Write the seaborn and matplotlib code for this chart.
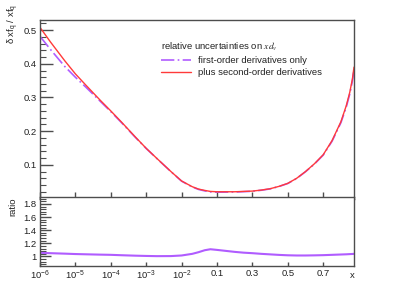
import numpy as np
import pandas as pd
import matplotlib
matplotlib.use("Agg")
import matplotlib.pyplot as plt
import seaborn as sns

# ---------------- data ----------------
x_vals = [1e-6, 2e-6, 5e-6, 1e-5, 2e-5, 5e-5, 1e-4, 2e-4, 5e-4, 1e-3, 2e-3,
          5e-3, 1e-2, 0.02, 0.03, 0.045, 0.065, 0.1, 0.15, 0.2, 0.25, 0.3,
          0.35, 0.4, 0.45, 0.5, 0.55, 0.6, 0.65, 0.7, 0.75, 0.8, 0.83, 0.85,
          0.865, 0.874]
second_order = [0.508, 0.464, 0.409, 0.370, 0.336, 0.292, 0.260, 0.227, 0.182,
                0.149, 0.119, 0.080, 0.052, 0.035, 0.028, 0.024, 0.021, 0.020,
                0.020, 0.020, 0.021, 0.022, 0.025, 0.029, 0.036, 0.045, 0.060,
                0.080, 0.103, 0.130, 0.172, 0.228, 0.275, 0.315, 0.355, 0.390]
first_order = [0.4815, 0.4419, 0.3921, 0.3600, 0.3300, 0.2890, 0.2580, 0.2255,
               0.1810, 0.1485, 0.1187, 0.0797, 0.0515, 0.0342, 0.0270, 0.0226,
               0.0196, 0.0188, 0.0190, 0.0192, 0.0203, 0.0215, 0.0245, 0.0285,
               0.0356, 0.0446, 0.0595, 0.0795, 0.1020, 0.1288, 0.1700, 0.2250,
               0.2710, 0.3100, 0.3490, 0.3830]
ratio_vals = [1.055, 1.050, 1.043, 1.037, 1.033, 1.028, 1.025, 1.019, 1.012,
              1.008, 1.005, 1.006, 1.015, 1.040, 1.065, 1.095, 1.110, 1.100,
              1.085, 1.070, 1.058, 1.050, 1.040, 1.032, 1.024, 1.018, 1.015,
              1.015, 1.017, 1.020, 1.025, 1.030, 1.033, 1.036, 1.038, 1.040]

xtick_vals = [1e-6, 1e-5, 1e-4, 1e-3, 1e-2, 0.1, 0.3, 0.5, 0.7]
xtick_labels = [r"$10^{-6}$", r"$10^{-5}$", r"$10^{-4}$", r"$10^{-3}$",
                r"$10^{-2}$", "0.1", "0.3", "0.5", "0.7"]
ytick_top = [0.1, 0.2, 0.3, 0.4, 0.5]
ytick_ratio = [1.0, 1.2, 1.4, 1.6, 1.8]
ytick_ratio_labels = ["1", "1.2", "1.4", "1.6", "1.8"]

label_first = "first-order derivatives only"
label_second = "plus second-order derivatives"
legend_title = r"relative uncertainties on $\mathit{xd}_{\mathit{v}}$"

df = pd.DataFrame({"x": x_vals, "first": first_order,
                   "second": second_order, "ratio": ratio_vals})

# ---------------- style ----------------
sns.set_style("ticks")
plt.rcParams["font.family"] = ["Liberation Sans", "DejaVu Sans"]
plt.rcParams["mathtext.fontset"] = "stix"
plt.rcParams["mathtext.default"] = "regular"
FS = 6.8
FRAME = "#4d4d4d"
TXT = "#222222"
PURPLE = "#b05cff"
RED = "#ff3a3a"


def fwd(x):
    x = np.asarray(x, dtype=float)
    xs = np.maximum(x, 1e-12)
    return np.where(x <= 0.1, np.log10(xs) + 6.0, 5.0 + (x - 0.1) / 0.2)


def inv(t):
    t = np.asarray(t, dtype=float)
    return np.where(t <= 5.0, 10.0 ** (np.minimum(t, 5.0) - 6.0), 0.1 + (t - 5.0) * 0.2)


W, H = 394, 283
fig = plt.figure(figsize=(W / 100, H / 100), dpi=100)
left, right = 40, 354
ax = fig.add_axes([left / W, 1 - 198.5 / H, (right - left) / W, (198.5 - 20) / H])
axr = fig.add_axes([left / W, 1 - 266 / H, (right - left) / W, (266 - 197) / H])

for a in (ax, axr):
    a.set_xscale("function", functions=(fwd, inv))
    a.set_xlim(1e-6, 0.874)
    for s in a.spines.values():
        s.set_color(FRAME)
        s.set_linewidth(1.0)
    a.set_xticks(xtick_vals)
    a.minorticks_off()

# top panel
sns.lineplot(data=df, x="x", y="first", ax=ax, color=PURPLE, lw=1.2,
             linestyle=(0, (8, 2, 1, 2)), label=label_first, sort=False)
sns.lineplot(data=df, x="x", y="second", ax=ax, color=RED, lw=1.0,
             label=label_second, sort=False)
ax.set_ylim(0, 0.53)
ax.set_yticks(ytick_top)
ax.set_yticks(np.arange(0.02, 0.53, 0.02), minor=True)
ax.set_xticklabels([])
ax.set_xlabel("")
ax.set_ylabel("")
ax.tick_params(axis="y", which="major", direction="in", length=9, width=1,
               color=FRAME, labelsize=FS, labelcolor=TXT, pad=2.5)
ax.tick_params(axis="y", which="minor", direction="in", length=4.5, width=0.8,
               color=FRAME)
ax.tick_params(axis="x", which="major", direction="in", length=5, width=1,
               color=FRAME)

leg = ax.legend(loc="upper left", bbox_to_anchor=(0.37, 0.913), frameon=False,
                title=legend_title, fontsize=FS, title_fontsize=FS,
                handlelength=3.2, handletextpad=0.7, labelspacing=0.35,
                borderpad=0.0, alignment="left")
for t in leg.get_texts():
    t.set_color(TXT)
leg.get_title().set_color(TXT)

# ratio panel
sns.lineplot(data=df, x="x", y="ratio", ax=axr, color=PURPLE, lw=1.5,
             sort=False, legend=False)
axr.set_ylim(0.855, 1.905)
axr.set_yticks(ytick_ratio)
axr.set_yticklabels(ytick_ratio_labels)
axr.set_yticks(np.arange(0.88, 1.9, 0.04), minor=True)
axr.set_xticklabels(xtick_labels)
axr.set_xlabel("")
axr.set_ylabel("")
axr.tick_params(axis="y", which="major", direction="in", length=8, width=1,
                color=FRAME, labelsize=FS, labelcolor=TXT, pad=2.5)
axr.tick_params(axis="y", which="minor", direction="in", length=4, width=0.8,
                color=FRAME)
axr.tick_params(axis="x", which="major", direction="in", length=3, width=1,
                color=FRAME, labelsize=FS, labelcolor=TXT, pad=2)

# axis titles
fig.text(13 / W, 1 - 4 / H, r"$\delta$ xf$_\mathregular{q}$ / xf$_\mathregular{q}$",
         rotation=90, ha="center", va="top", fontsize=FS, color=TXT)
fig.text(13 / W, 1 - 198 / H, "ratio", rotation=90, ha="center", va="top",
         fontsize=FS, color=TXT)
fig.text(352 / W, 1 - 275 / H, "x", ha="center", va="center", fontsize=FS,
         color=TXT)

fig.savefig("out.png", dpi=100)
